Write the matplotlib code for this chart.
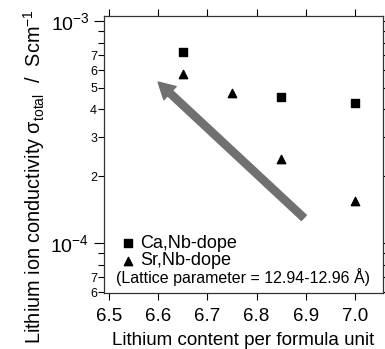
import numpy as np
import matplotlib
matplotlib.use("Agg")
import matplotlib.pyplot as plt
from matplotlib import ticker

plt.rcParams['font.family'] = ['Liberation Sans', 'DejaVu Sans']
plt.rcParams['mathtext.fontset'] = 'custom'
plt.rcParams['mathtext.rm'] = 'Liberation Sans'
plt.rcParams['mathtext.it'] = 'Liberation Sans'

# data
ca_x = [6.65, 6.85, 7.0]
ca_y = [7.27e-4, 4.53e-4, 4.28e-4]
sr_x = [6.65, 6.75, 6.85, 7.0]
sr_y = [5.77e-4, 4.75e-4, 2.39e-4, 1.55e-4]
arrow_tail = (6.896, 1.30e-4)
arrow_head = (6.60, 5.31e-4)
x_ticks = [6.5, 6.6, 6.7, 6.8, 6.9, 7.0]
x_ticklabels = ['6.5', '6.6', '6.7', '6.8', '6.9', '7.0']

fig = plt.figure(figsize=(3.85, 3.49), dpi=100)
ax = fig.add_axes([0.270, 0.160, 0.725, 0.794])

ax.scatter(ca_x, ca_y, marker='s', s=28, color='black', label='Ca,Nb-dope', zorder=3)
ax.scatter(sr_x, sr_y, marker='^', s=36, color='black', label='Sr,Nb-dope', zorder=3)

ax.annotate('', xy=arrow_head, xytext=arrow_tail,
            arrowprops=dict(arrowstyle='simple,head_length=0.9,head_width=1.0,tail_width=0.4',
                            color='#707070', mutation_scale=13, shrinkA=0, shrinkB=0))

ax.set_yscale('log')
ax.set_xlim(6.49, 7.057)
ax.set_ylim(5.95e-5, 1.053e-3)

ax.set_xticks(x_ticks)
ax.set_xticklabels(x_ticklabels, fontsize=13.5)
ax.tick_params(axis='x', which='both', top=True, direction='out', length=5, width=0.8, pad=6)

ax.yaxis.set_major_locator(ticker.FixedLocator([1e-4, 1e-3]))
ax.yaxis.set_major_formatter(ticker.FixedFormatter([r'$\mathregular{10^{-4}}$', r'$\mathregular{10^{-3}}$']))
ax.yaxis.set_minor_locator(ticker.LogLocator(base=10, subs=np.arange(2, 10), numticks=10))

def minor_fmt(v, pos):
    d = int(round(v / 10 ** np.floor(np.log10(v) + 1e-9)))
    return str(d) if d in (2, 3, 4, 5, 6, 7) else ''

ax.yaxis.set_minor_formatter(ticker.FuncFormatter(minor_fmt))
ax.tick_params(axis='y', which='major', labelsize=14, length=7, width=0.8, right=True)
ax.tick_params(axis='y', which='minor', labelsize=9, length=4, width=0.8, right=True, pad=1)

for s in ax.spines.values():
    s.set_linewidth(0.9)
    s.set_color('#333333')

ax.set_xlabel('Lithium content per formula unit', fontsize=13.5, labelpad=5)
ax.set_ylabel(r'Lithium ion conductivity $\mathregular{\sigma_{total}}$  /  Scm$\mathregular{^{-1}}$',
              fontsize=14.3)
ax.yaxis.set_label_coords(-0.205, 0.42)

ax.legend(loc='lower left', bbox_to_anchor=(0.0, 0.04), frameon=False, fontsize=13,
          handletextpad=0.0, borderaxespad=0.3, labelspacing=0.05, handlelength=1.3)
ax.text(0.043, 0.057, '(Lattice parameter = 12.94-12.96 Å)', transform=ax.transAxes,
        fontsize=11.5, ha='left', va='center')

fig.savefig('out.png', dpi=100)
